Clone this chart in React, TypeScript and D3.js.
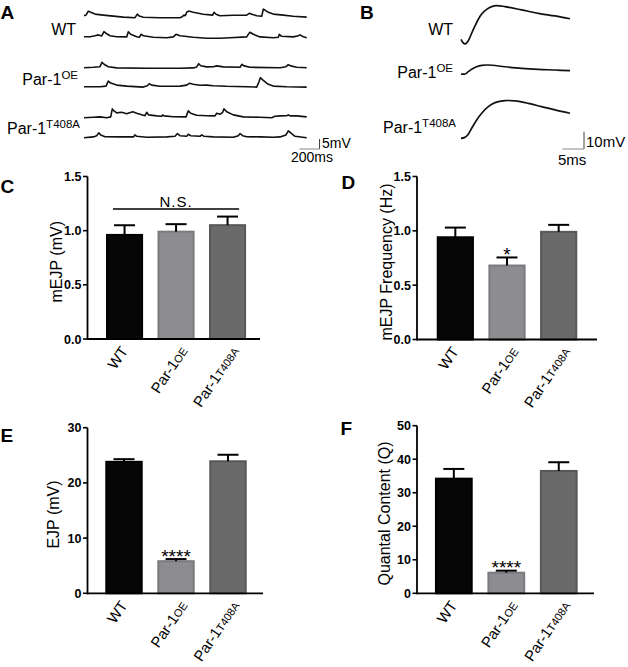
import React from "react";
import * as d3 from "d3";

const FONT = "'Liberation Sans', Arial, Helvetica, sans-serif";

// genotypes
const groups = ["WT", "Par-1OE", "Par-1T408A"];
const groupMain = ["WT", "Par-1", "Par-1"];
const groupSup = ["", "OE", "T408A"];

// bar values (mean, SEM)
const mejpMean = [0.97, 1.0, 1.06];
const mejpSem = [0.08, 0.06, 0.07];
const freqMean = [0.95, 0.69, 1.0];
const freqSem = [0.08, 0.065, 0.055];
const ejpMean = [24.0, 6.0, 24.1];
const ejpSem = [0.3, 0.2, 1.0];
const qcMean = [34.5, 6.45, 36.8];
const qcSem = [2.6, 0.3, 2.3];

const mejpTicks = [0, 0.5, 1.0, 1.5];
const freqTicks = [0, 0.5, 1.0, 1.5];
const ejpTicks = [0, 10, 20, 30];
const qcTicks = [0, 10, 20, 30, 40, 50];

const freqSig = ["", "*", ""];
const ejpSig = ["", "****", ""];
const qcSig = ["", "****", ""];
const mejpNsLevel = 1.2;

// mEJP recordings [ms, mV]
const wtMini1 = [[0,1.0],[20,1.3],[43,3.3],[67,2.7],[110,1.8],[193,1.3],[293,0.8],[393,0.3],[510,0],[520,0.8],[533,1.8],[553,0.8],[593,0.2],[760,0],[960,0],[977,0.3],[1000,1.3],[1013,1.0],[1027,2.7],[1047,3.3],[1093,2.7],[1193,1.7],[1287,1.3],[1300,2.7],[1320,1.7],[1360,1.0],[1493,1.2],[1627,1.3],[1653,2.2],[1677,1.7],[1727,1.0],[1777,0.7],[1793,4.3],[1813,3.7],[1843,2.7],[1893,1.8],[1993,1.3],[2093,0.7],[2227,0.3]];
const wtMini2 = [[0,0.8],[60,0.8],[110,1.3],[143,1.7],[177,1.2],[200,3.3],[220,2.5],[260,1.3],[327,0.8],[427,0.7],[443,3.3],[467,2.0],[527,0.8],[553,0.5],[570,2.0],[593,1.3],[693,0.5],[827,0.3],[893,0.7],[920,2.0],[960,1.3],[1093,0.5],[1227,0],[1360,0],[1460,0.3],[1627,0.7],[1643,2.0],[1660,3.0],[1693,2.0],[1760,0.7],[1893,0.3],[1943,0.5],[1953,2.0],[1977,1.0],[2093,0.7],[2143,1.3],[2160,1.7],[2193,0.8],[2227,0.3]];
const oeMini1 = [[0,0.3],[93,0.5],[160,0.8],[180,3.0],[200,2.0],[243,0.8],[327,0.2],[627,0],[960,0],[1093,0.2],[1127,0.7],[1147,2.3],[1167,1.3],[1227,0.7],[1293,0.8],[1327,1.2],[1393,0.7],[1560,0.5],[1580,2.0],[1600,1.2],[1660,0.5],[1960,0.3],[2020,0.8],[2043,1.8],[2067,1.2],[2127,0.5],[2227,0.3]];
const oeMini2 = [[0,0.5],[160,0.5],[220,0.8],[243,3.3],[267,2.3],[327,1.3],[427,0.8],[593,0.3],[633,1.0],[653,2.0],[677,1.3],[760,0.7],[960,0.8],[1027,1.3],[1053,2.2],[1093,1.7],[1160,1.2],[1227,1.3],[1293,1.0],[1427,0.7],[1627,0.5],[1727,0.3],[1750,3.0],[1763,5.0],[1793,3.7],[1843,1.7],[1893,0.8],[2027,0.5],[2227,0.3]];
const taMini1 = [[0,0.3],[93,0.5],[160,0.7],[227,0.3],[267,0.7],[283,4.7],[300,3.7],[327,2.7],[377,3.0],[427,2.3],[487,3.3],[527,2.5],[610,1.3],[627,3.0],[647,1.7],[727,1.2],[777,1.0],[787,1.7],[800,1.2],[893,0.8],[1020,0.7],[1043,3.7],[1067,2.5],[1127,1.5],[1227,1.3],[1310,1.2],[1327,2.5],[1360,2.0],[1387,3.0],[1400,4.7],[1427,3.3],[1493,1.7],[1593,0.7],[1760,0.5],[1877,0.3],[1910,1.0],[1960,1.2],[2027,1.3],[2043,1.7],[2067,1.2],[2127,1.2],[2227,0.7]];
const taMini2 = [[0,0.3],[93,0.7],[127,1.3],[147,2.7],[167,1.7],[210,0.8],[360,0.7],[493,0.7],[510,1.7],[527,1.0],[627,0.5],[827,0.7],[910,1.0],[933,2.3],[960,1.3],[1027,1.0],[1043,2.0],[1067,1.3],[1160,1.0],[1177,1.7],[1200,1.0],[1293,0.7],[1493,0.5],[1543,1.3],[1560,2.3],[1587,1.3],[1627,0.8],[1760,0.7],[1893,0.5],[1960,0.7],[2020,1.7],[2043,3.7],[2067,2.7],[2110,1.0],[2227,0.3]];

// EJP recordings [ms, mV]
const wtEjp = [[0,0],[0.46,-1.9],[0.92,-2.7],[1.38,-1.9],[1.85,0],[2.46,3.5],[3.23,7.7],[4.0,11.6],[4.77,14.6],[5.92,17.3],[7.08,18.9],[8.23,19.5],[10.15,18.9],[14.0,17.0],[17.85,15.0],[21.7,13.5],[25.15,11.9]];
const oeEjp = [[0,0],[0.92,0],[1.69,1.35],[2.46,2.7],[3.62,4.2],[4.77,5.0],[6.3,5.2],[10.15,4.2],[14.0,3.3],[17.85,2.7],[21.7,2.3],[25.15,1.9]];
const taEjp = [[0,0],[0.77,0.4],[1.54,1.9],[2.46,5.8],[3.62,10.6],[4.77,14.5],[6.3,18.3],[7.85,20.6],[10.15,21.8],[12.46,21.6],[15.53,20.2],[18.6,18.3],[21.7,16.4],[25.15,14.5]];

const barFill = ["#060606", "#8d8d91", "#6a6a6a"];
const barStroke = ["#000000", "#7b7b7f", "#585858"];

const ANGLE = -56 * Math.PI / 180;
const COS = Math.cos(ANGLE);
const SIN = Math.sin(ANGLE);

function Label({ x, y, main, sup, size, supSize }) {
  return (
    <text x={x} y={y} fontSize={size} textAnchor="end" fontFamily={FONT}>
      {main}
      {sup && (
        <tspan fontSize={supSize} dy={-6}>
          {sup}
        </tspan>
      )}
    </text>
  );
}

function BarPanel({ means, sems, ticks, fmt, band, yRange, axisX, axisEnd, yLabel, yLabelX, sig, ns }) {
  const x = d3.scaleBand().domain(groups).range(band).paddingInner(0.28).paddingOuter(0.14);
  const y = d3.scaleLinear().domain([0, ticks[ticks.length - 1]]).range(yRange);
  const y0 = y(0);
  const bw = x.bandwidth();
  const labelOff = [4, 12, 12];
  return (
    <g fontFamily={FONT}>
      {groups.map((g, i) => {
        const cx = x(g) + bw / 2;
        const top = y(means[i]);
        const err = y(means[i] + sems[i]);
        const ax = cx + labelOff[i];
        const ay = y0 + 12;
        const m = `matrix(${COS} ${SIN} ${-SIN} ${COS} ${ax} ${ay})`;
        return (
          <g key={g}>
            <rect x={x(g) + 1} y={top + 1} width={bw - 2} height={y0 - top - 1}
              fill={barFill[i]} stroke={barStroke[i]} strokeWidth={2} />
            <line x1={cx} x2={cx} y1={top + 1} y2={err} stroke="#000" strokeWidth={2} />
            <line x1={cx - 10.5} x2={cx + 10.5} y1={err} y2={err} stroke="#000" strokeWidth={2} />
            {sig && sig[i] && (
              <text x={cx} y={err + 3.5} fontSize={19} textAnchor="middle">{sig[i]}</text>
            )}
            <g transform={m}>
              <text x={0} y={0} fontSize={15} textAnchor="end">
                {groupMain[i]}
                {groupSup[i] && <tspan fontSize={11}>{groupSup[i]}</tspan>}
              </text>
            </g>
          </g>
        );
      })}
      <line x1={axisX} x2={axisX} y1={y(ticks[ticks.length - 1])} y2={y0 + 1} stroke="#000" strokeWidth={1.8} />
      <line x1={axisX} x2={axisEnd} y1={y0} y2={y0} stroke="#000" strokeWidth={1.8} />
      {ticks.map((t) => (
        <g key={t}>
          <line x1={axisX - 4.5} x2={axisX} y1={y(t)} y2={y(t)} stroke="#000" strokeWidth={1.6} />
          <text x={axisX - 6} y={y(t)} dy="0.36em" fontSize={12.5} fontWeight="bold" textAnchor="end">
            {d3.format(fmt)(t)}
          </text>
        </g>
      ))}
      <text transform={`translate(${yLabelX},${(y(ticks[ticks.length - 1]) + y0) / 2 + 4}) rotate(-90)`}
        fontSize={16} textAnchor="middle">{yLabel}</text>
      {ns != null && (
        <g>
          <line x1={x(groups[0]) + 7} x2={x(groups[2]) + bw - 7} y1={y(ns)} y2={y(ns)} stroke="#000" strokeWidth={1.5} />
          <text x={(x(groups[0]) + x(groups[2]) + bw) / 2} y={y(ns) - 2.5} fontSize={15} letterSpacing={1}
            textAnchor="middle">N.S.</text>
        </g>
      )}
    </g>
  );
}

export default function App() {
  const xA = d3.scaleLinear().domain([0, 2230]).range([84, 307]);
  const vA = d3.scaleLinear().domain([0, 5]).range([0, 10]);
  const xB = d3.scaleLinear().domain([0, 25.15]).range([461, 570]);
  const vB = d3.scaleLinear().domain([0, 10]).range([0, 17.3]);

  const miniRows = [
    { data: wtMini1, base: 17.7 },
    { data: wtMini2, base: 38.3 },
    { data: oeMini1, base: 68.3 },
    { data: oeMini2, base: 87.7 },
    { data: taMini1, base: 118.3 },
    { data: taMini2, base: 138.3 },
  ];
  const ejpRows = [
    { data: wtEjp, base: 39.3 },
    { data: oeEjp, base: 74 },
    { data: taEjp, base: 138.3 },
  ];

  const letter = (t, x, y) => (
    <text x={x} y={y} fontSize={19} fontWeight="bold" fontFamily={FONT}>{t}</text>
  );

  return (
    <svg width={628} height={667} style={{ position: "absolute", left: 0, top: 0, background: "#fff" }}>
      <rect width={628} height={667} fill="#fff" />
      {/* A: spontaneous mEJP traces */}
      {letter("A", 0.5, 18.5)}
      {miniRows.map((r, i) => {
        const line = d3.line().x((d) => xA(d[0])).y((d) => r.base - vA(d[1]));
        return <path key={i} d={line(r.data)} fill="none" stroke="#111" strokeWidth={1.6} strokeLinejoin="round" />;
      })}
      <Label x={76} y={35} main="WT" size={16} />
      <Label x={78} y={85} main="Par-1" sup="OE" size={16} supSize={11.5} />
      <Label x={80} y={134} main="Par-1" sup="T408A" size={16} supSize={11.5} />
      <line x1={319.5} x2={319.5} y1={149 - vA(5)} y2={149} stroke="#444" strokeWidth={1} />
      <line x1={319.5 - (xA(200) - xA(0))} x2={319.5} y1={149} y2={149} stroke="#888" strokeWidth={1} />
      <text x={322} y={148} fontSize={14} fontFamily={FONT}>5mV</text>
      <text x={291} y={162} fontSize={14} fontFamily={FONT}>200ms</text>

      {/* B: evoked EJP traces */}
      {letter("B", 360, 18.5)}
      {ejpRows.map((r, i) => {
        const line = d3.line().x((d) => xB(d[0])).y((d) => r.base - vB(d[1])).curve(d3.curveCatmullRom);
        return <path key={i} d={line(r.data)} fill="none" stroke="#111" strokeWidth={1.7} />;
      })}
      <Label x={453} y={35} main="WT" size={16} />
      <Label x={453} y={78} main="Par-1" sup="OE" size={16} supSize={11.5} />
      <Label x={456} y={133} main="Par-1" sup="T408A" size={16} supSize={11.5} />
      <line x1={584} x2={584} y1={149 - vB(10)} y2={149} stroke="#444" strokeWidth={1} />
      <line x1={584 - (xB(5) - xB(0))} x2={584} y1={149} y2={149} stroke="#888" strokeWidth={1} />
      <text x={586} y={147} fontSize={15} fontFamily={FONT}>10mV</text>
      <text x={558} y={165} fontSize={15} fontFamily={FONT}>5ms</text>

      {/* C */}
      {letter("C", 0.5, 193)}
      <BarPanel means={mejpMean} sems={mejpSem} ticks={mejpTicks} fmt=".1f" band={[98.8, 253.3]}
        yRange={[339, 176.5]} axisX={87.5} axisEnd={260} yLabel="mEJP (mV)" yLabelX={61.5} ns={mejpNsLevel} />
      {/* D */}
      {letter("D", 341.5, 188.5)}
      <BarPanel means={freqMean} sems={freqSem} ticks={freqTicks} fmt=".1f" band={[429.5, 584.5]}
        yRange={[339.5, 176.5]} axisX={417} axisEnd={597} yLabel="mEJP Frequency (Hz)" yLabelX={392} sig={freqSig} />
      {/* E */}
      {letter("E", 0.5, 442)}
      <BarPanel means={ejpMean} sems={ejpSem} ticks={ejpTicks} fmt="d" band={[98, 254]}
        yRange={[593.3, 427.7]} axisX={87.5} axisEnd={263} yLabel="EJP (mV)" yLabelX={58.5} sig={ejpSig} />
      {/* F */}
      {letter("F", 340.5, 435)}
      <BarPanel means={qcMean} sems={qcSem} ticks={qcTicks} fmt="d" band={[427.6, 585]}
        yRange={[593.3, 425.7]} axisX={417} axisEnd={594} yLabel="Quantal Content (Q)" yLabelX={389.5} sig={qcSig} />
    </svg>
  );
}
